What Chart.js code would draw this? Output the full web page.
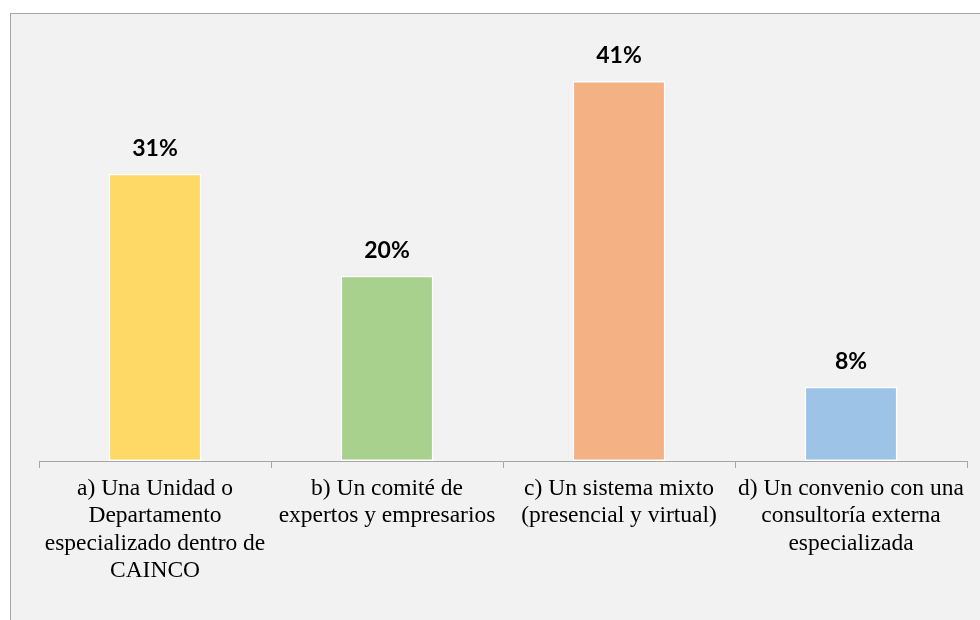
<!DOCTYPE html>
<html>
<head>
<meta charset="utf-8">
<script src="https://cdn.jsdelivr.net/npm/chart.js@4.4.1/dist/chart.umd.min.js"></script>
<style>
  html, body { margin: 0; padding: 0; background: #ffffff; overflow: hidden; width: 980px; height: 620px; }
  #frame { position: absolute; left: 10px; top: 13px; width: 980px; height: 620px;
           background: #f2f2f2; border-left: 1px solid #a6a6a6; border-top: 1px solid #a6a6a6; }
  #wrap { position: absolute; left: 0; top: 0; width: 969px; height: 606px; }
</style>
</head>
<body>
<div id="frame"><div id="wrap"><canvas id="c"></canvas></div></div>
<script>
const categories = [
  ["a) Una Unidad o", "Departamento", "especializado dentro de", "CAINCO"],
  ["b) Un comité de", "expertos y empresarios"],
  ["c) Un sistema mixto", "(presencial y virtual)"],
  ["d) Un convenio con una", "consultoría externa", "especializada"]
];
const values = [31, 20, 41, 8];
const barColors = ["#FFD966", "#A9D18E", "#F4B183", "#9DC3E6"];

const dataLabels = {
  id: 'dataLabels',
  afterDatasetsDraw(chart) {
    const ctx = chart.ctx;
    const meta = chart.getDatasetMeta(0);
    ctx.save();
    ctx.font = 'bold 23px Lato, "Open Sans", sans-serif';
    ctx.fillStyle = '#000000';
    ctx.textAlign = 'center';
    ctx.textBaseline = 'middle';
    meta.data.forEach((bar, i) => {
      ctx.fillText(values[i] + '%', bar.x, bar.y - 25);
    });
    ctx.restore();
  }
};

new Chart(document.getElementById('c'), {
  type: 'bar',
  data: {
    labels: categories,
    datasets: [{
      data: values,
      backgroundColor: barColors,
      borderColor: '#ffffff',
      borderWidth: 1.5,
      borderSkipped: false,
      barPercentage: 0.8,
      categoryPercentage: 0.5
    }]
  },
  options: {
    responsive: true,
    maintainAspectRatio: false,
    animation: false,
    layout: { padding: { left: 28, right: 13, top: 30, bottom: 0 } },
    plugins: { legend: { display: false }, tooltip: { enabled: false } },
    scales: {
      x: {
        offset: true,
        border: { display: true, color: '#a6a6a6', width: 1 },
        grid: { display: true, drawOnChartArea: false, drawTicks: true, tickLength: 7, color: '#a6a6a6', offset: true },
        ticks: {
          color: '#000000',
          maxRotation: 0,
          autoSkip: false,
          padding: 7,
          font: { family: '"Liberation Serif", "Times New Roman", serif', size: 23.5, lineHeight: 1.17 }
        },
        afterFit(scale) { scale.height = 159; }
      },
      y: {
        display: false,
        min: 0,
        max: 45
      }
    }
  },
  plugins: [dataLabels]
});
</script>
</body>
</html>
